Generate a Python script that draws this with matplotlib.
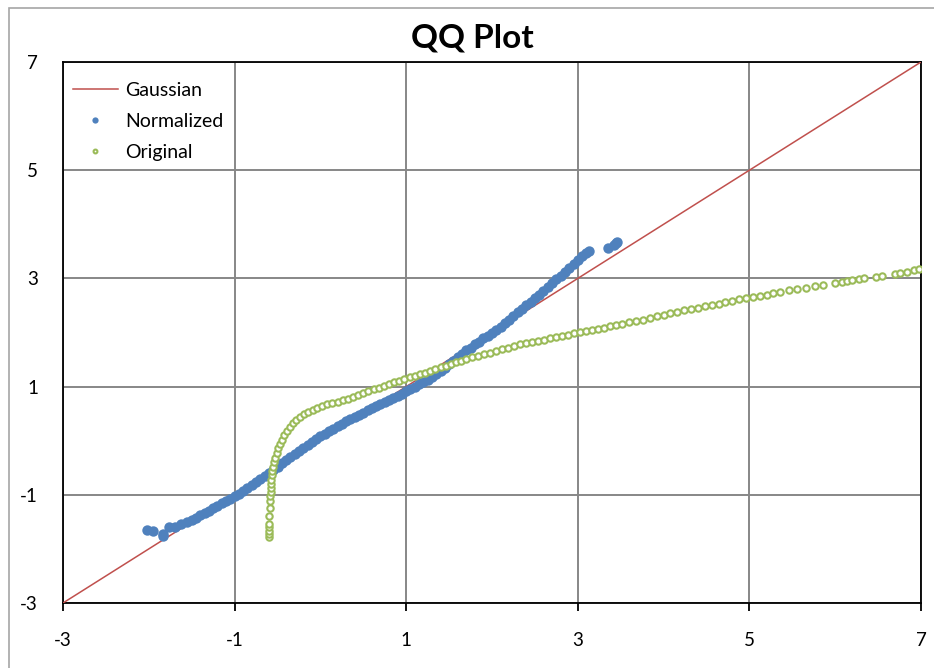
import numpy as np
import matplotlib.pyplot as plt
from matplotlib.patches import Rectangle

plt.rcParams['font.family'] = ['Lato', 'DejaVu Sans']
plt.rcParams['axes.unicode_minus'] = False

# Gaussian reference line
gauss_x = [-3, 7]
gauss_y = [-3, 7]

# Normalized series
norm_x = [-2.02, -1.95, -1.84, -1.84, -1.76, -1.70, -1.63, -1.56, -1.50,
          -1.45, -1.40, -1.35, -1.30, -1.25, -1.20, -1.15, -1.10, -1.05, -1.00,
          -0.95, -0.90, -0.85, -0.80, -0.75, -0.70, -0.65, -0.60, -0.55, -0.50,
          -0.45, -0.40, -0.35, -0.30, -0.25, -0.20, -0.15, -0.10, -0.05, 0.00,
          0.05, 0.10, 0.15, 0.20, 0.25, 0.30, 0.35, 0.40, 0.45, 0.50,
          0.55, 0.60, 0.65, 0.70, 0.75, 0.80, 0.85, 0.90, 0.95, 1.00,
          1.05, 1.10, 1.15, 1.20, 1.25, 1.30, 1.35, 1.40, 1.45, 1.50,
          1.55, 1.60, 1.65, 1.70, 1.75, 1.80, 1.85, 1.90, 1.95, 2.00,
          2.05, 2.10, 2.15, 2.20, 2.25, 2.30, 2.35, 2.40, 2.45, 2.50,
          2.55, 2.60, 2.65, 2.70, 2.75, 2.80, 2.85, 2.90, 2.95, 3.00,
          3.05, 3.10, 3.13, 3.35, 3.42, 3.44, 3.46]
norm_y = [-1.65, -1.66, -1.72, -1.76, -1.60, -1.59, -1.54, -1.51, -1.46,
          -1.42, -1.38, -1.34, -1.30, -1.25, -1.21, -1.16, -1.12, -1.07, -1.03,
          -0.98, -0.93, -0.87, -0.82, -0.76, -0.71, -0.65, -0.59, -0.54, -0.48,
          -0.42, -0.36, -0.30, -0.24, -0.19, -0.13, -0.08, -0.02, 0.03, 0.08,
          0.13, 0.18, 0.22, 0.27, 0.31, 0.36, 0.40, 0.44, 0.48, 0.52,
          0.56, 0.60, 0.64, 0.68, 0.71, 0.75, 0.79, 0.83, 0.87, 0.91,
          0.95, 1.00, 1.04, 1.09, 1.13, 1.18, 1.23, 1.29, 1.35, 1.41,
          1.47, 1.54, 1.60, 1.67, 1.72, 1.78, 1.83, 1.89, 1.94, 2.00,
          2.05, 2.11, 2.17, 2.24, 2.30, 2.37, 2.43, 2.50, 2.56, 2.63,
          2.70, 2.77, 2.84, 2.91, 2.98, 3.05, 3.12, 3.19, 3.27, 3.34,
          3.41, 3.47, 3.50, 3.57, 3.62, 3.65, 3.68]

# Original series
orig_x = [-0.60, -0.60, -0.60, -0.60, -0.60, -0.595, -0.59, -0.59, -0.585, -0.58,
          -0.58, -0.575, -0.57, -0.565, -0.56, -0.55, -0.54, -0.53, -0.51, -0.49,
          -0.47, -0.45, -0.42, -0.39, -0.36, -0.32, -0.28, -0.24, -0.19, -0.14,
          -0.09, -0.04, 0.02, 0.08, 0.14, 0.20, 0.26, 0.32, 0.38, 0.44,
          0.50, 0.56, 0.62, 0.68, 0.74, 0.80, 0.86, 0.92, 0.98, 1.04,
          1.10, 1.16, 1.22, 1.28, 1.34, 1.40, 1.46, 1.52, 1.58, 1.64,
          1.70, 1.77, 1.84, 1.91, 1.98, 2.05, 2.12, 2.19, 2.26, 2.33,
          2.40, 2.47, 2.54, 2.61, 2.68, 2.75, 2.82, 2.89, 2.96, 3.03,
          3.10, 3.17, 3.24, 3.31, 3.38, 3.45, 3.52, 3.60, 3.68, 3.76,
          3.84, 3.92, 4.00, 4.08, 4.16, 4.24, 4.32, 4.40, 4.48, 4.56,
          4.64, 4.72, 4.80, 4.88, 4.96, 5.04, 5.12, 5.20, 5.28, 5.36,
          5.46, 5.56, 5.66, 5.76, 5.86, 6.00, 6.08, 6.14, 6.20, 6.28,
          6.34, 6.48, 6.54, 6.70, 6.76, 6.84, 6.92, 6.98]
orig_y = [-1.78, -1.72, -1.66, -1.60, -1.54, -1.40, -1.25, -1.12, -1.02, -0.95,
          -0.88, -0.80, -0.72, -0.64, -0.56, -0.48, -0.40, -0.32, -0.23, -0.14,
          -0.06, 0.02, 0.10, 0.18, 0.25, 0.32, 0.38, 0.44, 0.49, 0.53,
          0.57, 0.60, 0.64, 0.67, 0.70, 0.72, 0.75, 0.78, 0.81, 0.85,
          0.88, 0.92, 0.95, 0.98, 1.01, 1.04, 1.08, 1.11, 1.14, 1.17,
          1.20, 1.23, 1.26, 1.29, 1.33, 1.36, 1.39, 1.42, 1.45, 1.48,
          1.51, 1.54, 1.57, 1.60, 1.63, 1.66, 1.69, 1.72, 1.75, 1.78,
          1.80, 1.82, 1.85, 1.87, 1.89, 1.92, 1.94, 1.96, 1.99, 2.01,
          2.03, 2.05, 2.07, 2.09, 2.12, 2.14, 2.16, 2.19, 2.21, 2.24,
          2.27, 2.30, 2.33, 2.36, 2.38, 2.41, 2.44, 2.46, 2.49, 2.51,
          2.53, 2.56, 2.58, 2.61, 2.63, 2.65, 2.68, 2.70, 2.73, 2.75,
          2.78, 2.80, 2.83, 2.86, 2.88, 2.92, 2.94, 2.95, 2.97, 2.99,
          3.00, 3.03, 3.04, 3.08, 3.10, 3.12, 3.15, 3.18]

ticks = [-3, -1, 1, 3, 5, 7]

fig = plt.figure(figsize=(9.34, 6.68), dpi=100)
ax = fig.add_axes([63 / 934, 65 / 668, 858 / 934, 541 / 668])

# outer chart frame (cut off on the right and bottom like the original)
fig.patches.append(Rectangle((9 / 934, -0.1), 1.1, (668 - 8) / 668 + 0.1,
                             transform=fig.transFigure, fill=False,
                             edgecolor='#a6a6a6', linewidth=1.2, zorder=0))

ax.plot(gauss_x, gauss_y, color='#c0504d', linewidth=1.1, label='Gaussian', zorder=3)
ax.plot(norm_x, norm_y, linestyle='none', marker='o', markersize=7.5,
        color='#4f81bd', markeredgewidth=0, label='Normalized', zorder=4)
ax.plot(orig_x, orig_y, linestyle='none', marker='o', markersize=4.6,
        markerfacecolor='white', markeredgecolor='#9bbb59', markeredgewidth=1.5,
        label='Original', zorder=5)

ax.set_xlim(-3, 7)
ax.set_ylim(-3, 7)
ax.set_xticks(ticks)
ax.set_yticks(ticks)
ax.grid(True, color='#878787', linewidth=1.4)
ax.set_axisbelow(True)
for s in ax.spines.values():
    s.set_color('black')
    s.set_linewidth(1.3)
ax.tick_params(axis='x', direction='out', length=6, width=1.3, pad=15, labelsize=13.5)
ax.tick_params(axis='y', length=0, pad=18, labelsize=13.5)

fig.text(472 / 934, 1 - 38 / 668, 'QQ Plot', fontsize=24, fontweight='bold',
         ha='center', va='center')

leg = ax.legend(loc='upper left', bbox_to_anchor=(0.0, 0.982), frameon=False,
                fontsize=14, handlelength=2.3, handletextpad=0.4,
                labelspacing=0.72, borderaxespad=0.25, borderpad=0.26,
                markerscale=0.6)

fig.savefig('out.png', dpi=100)
